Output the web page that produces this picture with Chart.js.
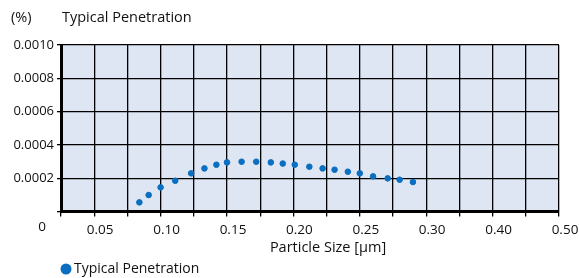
<!DOCTYPE html>
<html>
<head>
<meta charset="utf-8">
<script src="https://cdn.jsdelivr.net/npm/chart.js@4"></script>
<style>
    html, body { margin: 0; padding: 0; background: #fff; }
    #wrap { width: 579px; height: 278px; }
</style>
</head>
<body>
<div id="wrap"><canvas id="penChart"></canvas></div>
<script>
// Data
const sizes = [0.084, 0.091, 0.100, 0.111, 0.123, 0.133, 0.142, 0.150, 0.161, 0.172, 0.183,
               0.192, 0.201, 0.212, 0.222, 0.231, 0.241, 0.250, 0.260, 0.271, 0.280, 0.290];
const penetration = [0.000055, 0.000099, 0.000145, 0.000185, 0.000229, 0.000259, 0.000281,
                     0.000295, 0.000299, 0.000299, 0.000295, 0.000288, 0.000281, 0.000269,
                     0.000259, 0.000251, 0.000239, 0.000229, 0.000211, 0.000199, 0.000191, 0.000177];
// x axis is not linear past 0.30: each labelled tick sits on every other grid line
const xTickValues = [0.05, 0.10, 0.15, 0.20, 0.25, 0.30, 0.40, 0.50];
const xTickLabels = ['0.05', '0.10', '0.15', '0.20', '0.25', '0.30', '0.40', '0.50'];
const seriesName = 'Typical Penetration';

const FONT = '"Open Sans", "DejaVu Sans", sans-serif';
const BLUE = '#0a6fc0';

// map a particle size to grid units (tick i sits at grid unit 2*i+1)
function toGrid(v) {
    for (let i = 0; i < xTickValues.length - 1; i++) {
        const a = xTickValues[i], b = xTickValues[i + 1];
        if (v <= b || i === xTickValues.length - 2) {
            return 2 * i + 1 + 2 * (v - a) / (b - a);
        }
    }
}

const points = sizes.map((s, i) => ({ x: toGrid(s), y: penetration[i] }));

const extras = {
    id: 'extras',
    beforeDraw(chart) {
        const { ctx, chartArea: a } = chart;
        ctx.save();
        ctx.fillStyle = '#dfe6f3';
        ctx.fillRect(a.left, a.top, a.right - a.left, a.bottom - a.top);
        ctx.restore();
    },
    afterDraw(chart) {
        const { ctx } = chart;
        ctx.save();
        ctx.fillStyle = '#111';
        ctx.font = '14.5px ' + FONT;
        ctx.textBaseline = 'middle';
        ctx.textAlign = 'left';
        ctx.fillText('(%)', 11, 18);
        ctx.fillText(seriesName, 62, 18);
        ctx.textAlign = 'center';
        ctx.font = '13.5px ' + FONT;
        ctx.fillText('0', 42, 227);
        ctx.font = '14.5px ' + FONT;
        ctx.fillText('Particle Size [µm]', 328, 248);
        // legend
        ctx.textAlign = 'left';
        ctx.font = '14px ' + FONT;
        ctx.fillText(seriesName, 74, 269);
        ctx.fillStyle = BLUE;
        ctx.beginPath();
        ctx.arc(66, 269, 5.5, 0, Math.PI * 2);
        ctx.fill();
        ctx.restore();
    }
};

new Chart(document.getElementById('penChart'), {
    type: 'scatter',
    data: {
        datasets: [{
            label: seriesName,
            data: points,
            backgroundColor: BLUE,
            borderColor: BLUE,
            pointRadius: 2.8,
            pointHoverRadius: 2.8,
        }],
    },
    options: {
        responsive: true,
        maintainAspectRatio: false,
        animation: false,
        layout: { padding: { top: 45, right: 20, left: 0, bottom: 0 } },
        plugins: {
            legend: { display: false },
            tooltip: { enabled: false },
        },
        scales: {
            x: {
                type: 'linear',
                min: 0,
                max: 15,
                afterFit: (s) => { s.height = 66.5; },
                border: { color: '#000', width: 3 },
                grid: { color: '#000', lineWidth: 1.3, tickLength: 5, drawTicks: true },
                ticks: {
                    stepSize: 1,
                    autoSkip: false,
                    maxRotation: 0,
                    padding: 6,
                    labelOffset: 6,
                    color: '#111',
                    font: { family: FONT, size: 13.5 },
                    callback: (v) => (v % 2 === 1 ? xTickLabels[(v - 1) / 2] : ''),
                },
            },
            y: {
                min: 0,
                max: 0.001,
                afterFit: (s) => { s.width = 61; },
                border: { color: '#000', width: 3 },
                grid: { color: '#000', lineWidth: 1.3, tickLength: 4 },
                ticks: {
                    stepSize: 0.0002,
                    padding: 3,
                    color: '#111',
                    font: { family: FONT, size: 13 },
                    callback: (v) => (v === 0 ? '' : v.toFixed(4)),
                },
            },
        },
    },
    plugins: [extras],
});
</script>
</body>
</html>
